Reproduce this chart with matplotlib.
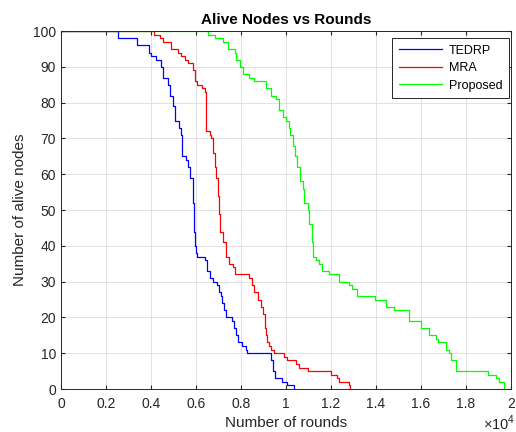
import matplotlib.pyplot as plt
import matplotlib.ticker as mticker

plt.rcParams['font.family'] = ['Liberation Sans', 'DejaVu Sans']
plt.rcParams['mathtext.fontset'] = 'custom'
plt.rcParams['mathtext.rm'] = 'Liberation Sans'

# step breakpoints: (round, alive nodes from that round on)
tedrp_rounds = [0, 2540, 3400, 3900, 4000, 4240, 4430, 4540, 4760, 4860, 4980, 5090,
                5250, 5320, 5400, 5540, 5650, 5760, 5870, 5900, 5930, 5960, 6000, 6050,
                6390, 6490, 6610, 6750, 6930, 7010, 7100, 7170, 7270, 7350, 7600, 7690,
                7790, 7890, 8060, 8240, 8280, 9340, 9450, 9530, 9830, 10040, 10350]
tedrp_nodes = [100, 98, 96, 94, 93, 92, 90, 87, 85, 82, 79, 75,
               73, 71, 65, 64, 62, 59, 52, 48, 44, 40, 38, 37,
               36, 33, 31, 30, 29, 27, 26, 24, 22, 20, 19, 17,
               15, 13, 12, 11, 10, 8, 5, 3, 2, 1, 0]

mra_rounds = [0, 4140, 4390, 4540, 4910, 5200, 5350, 5500, 5650, 5870, 5940, 6050,
              6280, 6390, 6430, 6460, 6610, 6680, 6750, 6830, 6900, 6980, 7050, 7080,
              7200, 7320, 7460, 7640, 7760, 8380, 8480, 8600, 8750, 8900, 8970, 9080,
              9120, 9160, 9270, 9340, 9490, 9930, 10040, 10450, 10600, 10970, 12000,
              12270, 12370, 12790, 12860]
mra_nodes = [100, 99, 98, 97, 95, 94, 93, 92, 91, 89, 86, 85,
             84, 83, 77, 72, 71, 70, 66, 62, 59, 54, 49, 44,
             41, 37, 35, 34, 32, 31, 29, 27, 25, 23, 21, 17,
             15, 13, 12, 11, 10, 9, 8, 7, 6, 5, 4,
             3, 2, 1, 0]

proposed_rounds = [0, 6530, 6830, 7200, 7420, 7760, 7790, 7940, 8080, 8380, 8600, 8970,
                   9120, 9340, 9570, 9710, 9860, 10010, 10120, 10200, 10300, 10400, 10500,
                   10630, 10750, 10820, 10970, 11040, 11140, 11190, 11340, 11460, 11600,
                   11900, 12340, 12820, 12960, 13180, 13960, 14470, 14810, 15480, 15990,
                   16360, 16660, 16770, 17100, 17250, 17350, 17550, 19000, 19320, 19470,
                   19690]
proposed_nodes = [100, 99, 98, 97, 95, 94, 92, 90, 88, 87, 86, 86,
                  84, 82, 81, 78, 76, 75, 73, 71, 68, 65, 62,
                  58, 56, 52, 50, 46, 41, 37, 36, 35, 33,
                  32, 30, 29, 28, 26, 25, 23, 22, 19, 17,
                  15, 14, 13, 11, 10, 8, 5, 4, 3, 2,
                  0]

xticks = list(range(0, 20001, 2000))
yticks = list(range(0, 101, 10))

fig = plt.figure(figsize=(5.16, 4.32), dpi=100)
ax = fig.add_axes((0.118, 0.0995, 0.872, 0.8285))

ax.step(tedrp_rounds, tedrp_nodes, where='post', color='#0000ff', lw=0.9, label='TEDRP')
ax.step(mra_rounds, mra_nodes, where='post', color='#ff0000', lw=0.9, label='MRA')
ax.step(proposed_rounds, proposed_nodes, where='post', color='#00ff00', lw=0.9, label='Proposed')

ax.set_xlim(0, 20000)
ax.set_ylim(0, 100)
ax.set_xticks(xticks)
ax.set_yticks(yticks)
ax.xaxis.set_major_formatter(mticker.FuncFormatter(lambda v, p: '%g' % (v / 1e4)))
ax.grid(True, color='#dcdcdc', lw=0.6)
ax.set_axisbelow(True)
ax.tick_params(direction='in', top=True, right=True, labelsize=10, colors='#262626', length=3)
ax.tick_params(axis='x', pad=6)
for s in ax.spines.values():
    s.set_color('#262626')
    s.set_linewidth(0.7)

ax.set_title('Alive Nodes vs Rounds', fontsize=11, fontweight='bold', pad=5)
ax.set_xlabel('Number of rounds', fontsize=11, color='#262626', labelpad=3)
ax.set_ylabel('Number of alive nodes', fontsize=11, color='#262626', labelpad=4)
ax.text(0.975, -0.07, r'$\times10^{4}$', transform=ax.transAxes, ha='center', va='top',
        fontsize=10.5, color='#262626')

leg = ax.legend(loc='upper right', bbox_to_anchor=(0.995, 0.98), fontsize=9,
                fancybox=False, framealpha=1, edgecolor='#262626', borderaxespad=0,
                handlelength=3.5, handletextpad=0.5, borderpad=0.5, labelspacing=0.45)
leg.get_frame().set_linewidth(0.7)

fig.savefig('out.png', dpi=100)
